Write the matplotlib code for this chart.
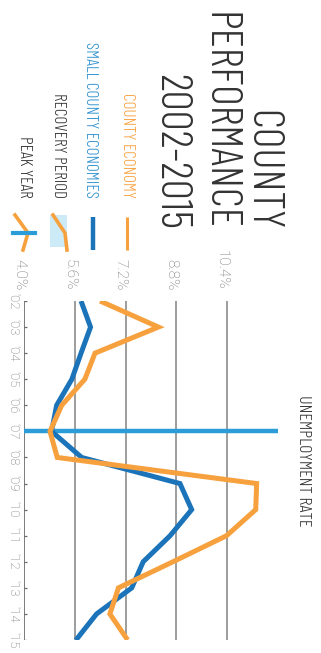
import matplotlib
matplotlib.use("Agg")
import matplotlib.pyplot as plt
from matplotlib.patches import Rectangle

plt.rcParams['font.family'] = ['Barlow Condensed', 'DejaVu Sans']
plt.rcParams['font.weight'] = 300

# unemployment rate by year (%)
years = list(range(2002, 2016))
year_labels = ["'02", "'03", "'04", "'05", "'06", "'07", "'08",
               "'09", "'10", "'11", "'12", "'13", "'14", "'15"]
county_economy = [6.39, 8.23, 6.23, 5.91, 5.18, 4.81, 5.04,
                  11.33, 11.30, 10.38, 8.69, 6.97, 6.70, 7.26]
small_county = [5.79, 6.09, 5.79, 5.50, 5.02, 4.86, 5.81,
                8.91, 9.28, 8.60, 7.75, 7.39, 6.28, 5.63]
rate_ticks = [4.0, 5.6, 7.2, 8.8, 10.4]
rate_labels = ["4.0%", "5.6%", "7.2%", "8.8%", "10.4%"]
peak_year = 2007

ORANGE = '#F7A13E'
BLUE = '#1B74BA'
LIGHT_BLUE = '#2A9DD8'
TEXT = '#333333'
GRID = '#8c8c8c'
TICK_COLOR = '#6e6e6e'
TICK_FONT = ['Roboto', 'DejaVu Sans']

W, H = 321, 653
fig = plt.figure(figsize=(W / 100, H / 100), dpi=100)
fig.patch.set_facecolor('white')


def fit_length(txt, target_px):
    """Scale a rotated text so its run along the page is target_px long."""
    renderer = fig.canvas.get_renderer()
    h = txt.get_window_extent(renderer).height
    txt.set_fontsize(txt.get_fontsize() * target_px / h)


# chart is laid out turned on its side: years run down, rate runs right
x0, x1 = 24.3, 277.9
y_top, y_bot = 301, 640
ax = fig.add_axes([x0 / W, (H - y_bot) / H, (x1 - x0) / W, (y_bot - y_top) / H])
ax.set_xlim(4.0, 12.0)
ax.set_ylim(2015, 2002)
ax.axis('off')

ax.vlines(rate_ticks[1:], years[0], years[-1], color=GRID, lw=1.2, zorder=1)
ax.vlines(rate_ticks[0], years[0], years[-1], color='#6f6f6f', lw=1.3, zorder=1)
ax.hlines(years, rate_ticks[0] - 0.07, rate_ticks[0] + 0.07, color='#6f6f6f', lw=0.9, zorder=1)

ax.hlines(peak_year, rate_ticks[0], 12.0, color=LIGHT_BLUE, lw=3.2, zorder=2,
          capstyle='round')
ax.plot(small_county, years, color=BLUE, lw=3.6, zorder=3,
        solid_joinstyle='miter', solid_capstyle='butt')
ax.plot(county_economy, years, color=ORANGE, lw=3.6, zorder=4,
        solid_joinstyle='miter', solid_capstyle='butt')

for yr, lab in zip(years, year_labels):
    ax.text(3.63, yr, lab, rotation=270, ha='center', va='center',
            fontsize=9.5, color=TICK_COLOR, clip_on=False, family=TICK_FONT,
            fontweight='light')
for r, lab in zip(rate_ticks, rate_labels):
    ax.text(r - 0.17, 2001.58, lab, rotation=270, ha='center', va='bottom',
            fontsize=11, color=TICK_COLOR, clip_on=False, family=TICK_FONT,
            fontweight='light')

# overlay in pixel units for title, legend and axis label
ov = fig.add_axes([0, 0, 1, 1])
ov.set_xlim(0, W)
ov.set_ylim(H, 0)
ov.axis('off')

title_lines = ["COUNTY", "PERFORMANCE", "2002-2015"]
title_texts = []
for xc, line in zip([261, 218, 170], title_lines):
    title_texts.append(ov.text(xc, 230, line, rotation=270, ha='center',
                               va='bottom', fontsize=30, color=TEXT))
fit_length(title_texts[1], 218)
for t in title_texts:
    t.set_fontsize(title_texts[1].get_fontsize())

legend_items = [("COUNTY ECONOMY", ORANGE, 127),
                ("SMALL COUNTY ECONOMIES", '#2B8FCF', 90),
                ("RECOVERY PERIOD", TEXT, 58),
                ("PEAK YEAR", TEXT, 24)]
legend_texts = []
for label, col, xc in legend_items:
    legend_texts.append(ov.text(xc, 198, label, rotation=270, ha='center',
                                va='bottom', fontsize=10, color=col))
fit_length(legend_texts[1], 157)
for t in legend_texts:
    t.set_fontsize(legend_texts[1].get_fontsize())

ov.plot([126.7, 126.7], [217, 250], color=ORANGE, lw=2.2, solid_capstyle='butt')
ov.plot([92.7, 92.7], [217, 250], color=BLUE, lw=3.2, solid_capstyle='butt')
ov.add_patch(Rectangle((50, 215), 17, 32, color='#CDEBF7', lw=0))
ov.plot([53, 65, 67], [215, 233, 250], color=ORANGE, lw=2.6)
ov.plot([15, 28, 23], [215, 233, 250], color=ORANGE, lw=2.6)
ov.plot([13, 35], [233, 233], color=LIGHT_BLUE, lw=3)

axis_label = ov.text(303, 461, "UNEMPLOYMENT RATE", rotation=270, ha='center',
                     va='center', fontsize=10, color=TEXT)
fit_length(axis_label, 133)

fig.savefig("out.png", dpi=100)
